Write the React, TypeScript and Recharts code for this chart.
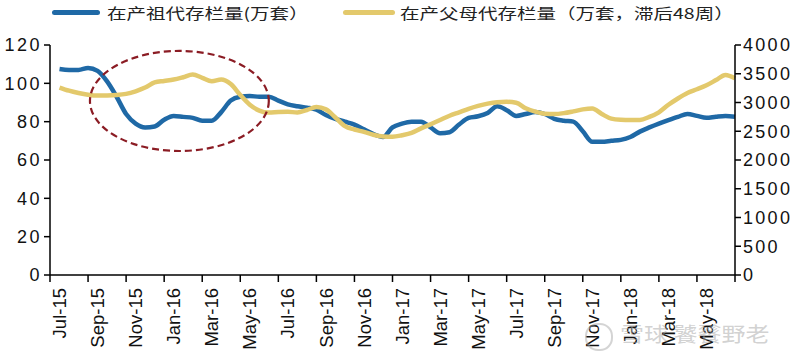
import { LineChart, Line, XAxis, YAxis, ReferenceArea } from "recharts"

const BLUE = "#1f69a6"
const GOLD = "#e3c96c"

const tickLabels = [
  "Jul-15", "Sep-15", "Nov-15", "Jan-16", "Mar-16", "May-16",
  "Jul-16", "Sep-16", "Nov-16", "Jan-17", "Mar-17", "May-17",
  "Jul-17", "Sep-17", "Nov-17", "Jan-18", "Mar-18", "May-18",
]

// 在产祖代存栏量 (万套), half-month steps from Jul-15
const grandparent = [
  107.5, 107, 107, 108, 106.5, 101, 93, 84, 79, 77,
  77.5, 81, 83, 82.5, 82, 80.5, 80.5, 85, 91, 93,
  93.4, 93, 93, 91, 89, 88, 87.3, 86.3, 83.5, 81.5,
  80, 78.5, 76, 73.5, 72, 77, 79, 80, 80, 77,
  74, 74.5, 78.5, 82, 82.8, 84.5, 88, 86, 83, 84,
  85, 84, 81.5, 80.5, 80, 75, 69.5, 69.5, 70, 70.5,
  72, 74.8, 77, 79, 80.8, 82.5, 84, 83, 82, 82.6,
  83, 82.6,
]

// 在产父母代存栏量 (万套, 滞后48周)
const parent = [
  3260, 3205, 3165, 3135, 3120, 3122, 3130, 3150, 3195, 3260,
  3350, 3375, 3400, 3440, 3485, 3430, 3370, 3400, 3320, 3130,
  2960, 2860, 2825, 2835, 2840, 2825, 2870, 2920, 2880, 2740,
  2590, 2530, 2490, 2440, 2410, 2405, 2430, 2470, 2550, 2620,
  2696, 2770, 2830, 2890, 2940, 2980, 3005, 3012, 2995, 2900,
  2840, 2805, 2800, 2815, 2845, 2880, 2895, 2800, 2720, 2700,
  2695, 2696, 2750, 2830, 2960, 3070, 3165, 3230, 3300, 3390,
  3480, 3420,
]

const leftTicks = [0, 20, 40, 60, 80, 100, 120]
const rightTicks = [0, 500, 1000, 1500, 2000, 2500, 3000, 3500, 4000]
const monthTicks = [0, 2, 4, 6, 8, 10, 12, 14, 16, 18, 20, 22, 24, 26, 28, 30, 32, 34, 36]

const data = grandparent.map((v, i) => ({ t: (i + 1) / 2, gp: v, pp: parent[i] }))

const font = "'Liberation Sans', Arial, sans-serif"
const cjk = "'Noto Sans CJK SC', sans-serif"

const MonthTick = (props: any) => {
  const { x, y, payload } = props
  const label = tickLabels[payload.value / 2] ?? ""
  const lx = x + 9.5
  const ly = y + 4
  return (
    <text
      x={lx}
      y={ly}
      transform={`rotate(-90, ${lx}, ${ly})`}
      textAnchor="end"
      dy="0.36em"
      fontSize={18.5}
      fontFamily={font}
      fill="#111"
    >
      {label}
    </text>
  )
}

const Ellipse = (props: any) => {
  const { x, y, width, height } = props
  return (
    <ellipse
      cx={x + width / 2}
      cy={y + height / 2}
      rx={width / 2}
      ry={height / 2}
      fill="none"
      stroke="#8b1c24"
      strokeWidth={2.2}
      strokeDasharray="7 4"
    />
  )
}

export default function App() {
  return (
    <div style={{ position: "absolute", left: 0, top: 0, width: 800, height: 359, background: "#fff" }}>
      <LineChart width={800} height={359} data={data} margin={{ top: 45, right: 0, bottom: 0, left: 0 }}>
        <XAxis
          dataKey="t"
          type="number"
          domain={[0, 36]}
          ticks={monthTicks}
          interval={0}
          height={84}
          tick={<MonthTick />}
          tickSize={7}
          axisLine={{ stroke: "#000", strokeWidth: 1.5 }}
          tickLine={{ stroke: "#000", strokeWidth: 1.5 }}
        />
        <YAxis
          yAxisId="left"
          domain={[0, 120]}
          ticks={leftTicks}
          width={50}
          tickSize={6}
          axisLine={{ stroke: "#000", strokeWidth: 1.5 }}
          tickLine={{ stroke: "#000", strokeWidth: 1.5 }}
          tick={{ fontSize: 18, fill: "#111", fontFamily: font, letterSpacing: 2.5 }}
        />
        <YAxis
          yAxisId="right"
          orientation="right"
          domain={[0, 4000]}
          ticks={rightTicks}
          width={65}
          tickSize={6}
          axisLine={{ stroke: "#000", strokeWidth: 1.5 }}
          tickLine={{ stroke: "#000", strokeWidth: 1.5 }}
          tick={{ fontSize: 18, fill: "#111", fontFamily: font, letterSpacing: 2.3 }}
        />
        <Line
          yAxisId="left"
          dataKey="gp"
          type="monotone"
          stroke={BLUE}
          strokeWidth={4.5}
          dot={false}
          isAnimationActive={false}
        />
        <Line
          yAxisId="right"
          dataKey="pp"
          type="monotone"
          stroke={GOLD}
          strokeWidth={4.5}
          dot={false}
          isAnimationActive={false}
        />
        <ReferenceArea
          yAxisId="left"
          x1={2.1}
          x2={11.5}
          y1={64.7}
          y2={116.9}
          ifOverflow="visible"
          shape={<Ellipse />}
          zIndex={1000}
        />
      </LineChart>

      <div style={{ position: "absolute", left: 52, top: 10, width: 48, height: 5, borderRadius: 3, background: BLUE }} />
      <div
        style={{
          position: "absolute", left: 107, top: 3, fontSize: 15, lineHeight: "20px", fontFamily: cjk,
          color: "#222", whiteSpace: "nowrap", transform: "scaleX(1.3)", transformOrigin: "left center",
        }}
      >
        在产祖代存栏量(万套）
      </div>
      <div style={{ position: "absolute", left: 343, top: 10, width: 52, height: 5, borderRadius: 3, background: GOLD }} />
      <div
        style={{
          position: "absolute", left: 400, top: 3, fontSize: 15, lineHeight: "20px", fontFamily: cjk,
          color: "#222", whiteSpace: "nowrap", transform: "scaleX(1.3)", transformOrigin: "left center",
        }}
      >
        在产父母代存栏量（万套，滞后48周）
      </div>

      <div
        style={{
          position: "absolute", left: 585, top: 323, width: 24, height: 24, borderRadius: 13,
          border: "2px solid rgba(170,170,170,0.5)",
        }}
      />
      <div
        style={{
          position: "absolute", left: 620, top: 322, fontSize: 20, lineHeight: "24px", fontFamily: cjk,
          color: "rgba(165,165,165,0.5)", whiteSpace: "nowrap", transform: "scaleX(1.2)", transformOrigin: "left center",
        }}
      >
        雪球 饕餮野老
      </div>
    </div>
  )
}
